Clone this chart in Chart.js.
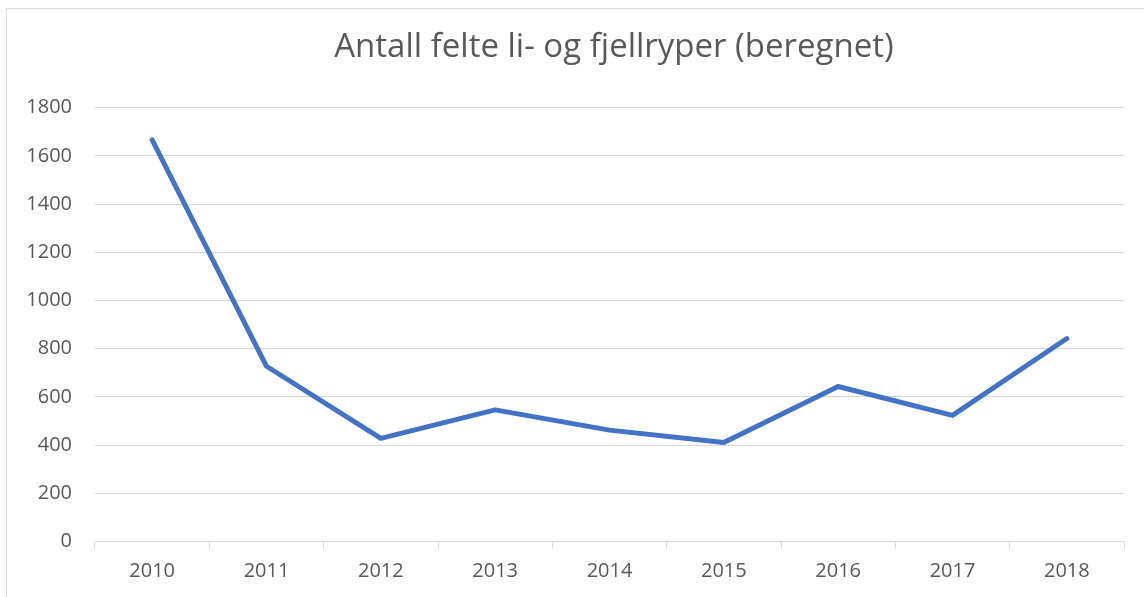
<!DOCTYPE html>
<html>
<head>
<meta charset="utf-8">
<script src="https://cdn.jsdelivr.net/npm/chart.js@4"></script>
<style>
  html, body { margin: 0; padding: 0; background: #fff; overflow: hidden; }
  #frame {
    position: absolute; left: 6px; top: 8px; width: 1300px; height: 700px;
    border: 1px solid #d9d9d9; box-sizing: border-box;
  }
  #wrap { position: absolute; left: 0; top: 0; width: 1228px; height: 597px; }
</style>
</head>
<body>
<div id="frame"></div>
<div id="wrap"><canvas id="turnoutChart"></canvas></div>
<script>
// data
const years = ["2010", "2011", "2012", "2013", "2014", "2015", "2016", "2017", "2018"];
const felte = [1666, 727, 428, 546, 462, 411, 643, 523, 842];
const yMax = 1800;
const yStep = 200;

const textGrey = "#595959";
const gridGrey = "#d9d9d9";
const font = "'Open Sans', 'Liberation Sans', sans-serif";

const ctx = document.getElementById("turnoutChart").getContext("2d");

new Chart(ctx, {
    type: "line",
    data: {
        labels: years,
        datasets: [{
            label: "Antall felte",
            data: felte,
            borderColor: "#4472C4",
            borderWidth: 5,
            borderCapStyle: "round",
            borderJoinStyle: "round",
            pointRadius: 0,
            tension: 0,
            fill: false,
        }],
    },
    options: {
        responsive: true,
        maintainAspectRatio: false,
        animation: false,
        layout: { padding: 0 },
        scales: {
            x: {
                offset: true,
                grid: {
                    offset: true,
                    drawOnChartArea: false,
                    drawTicks: true,
                    tickLength: 7,
                    color: gridGrey,
                },
                border: { display: true, color: gridGrey },
                ticks: { color: textGrey, font: { family: font, size: 20 }, padding: 11 },
                afterFit: (scale) => { scale.height = 55.5; },
            },
            y: {
                min: 0,
                max: yMax,
                ticks: {
                    stepSize: yStep,
                    color: textGrey,
                    font: { family: font, size: 20 },
                    padding: 23,
                    callback: (v) => String(v),
                },
                grid: { color: gridGrey, drawTicks: false },
                border: { display: false },
                afterFit: (scale) => { scale.width = 95; },
            },
            // empty right-hand axis, only reserves the space right of the plot
            spacer: {
                position: "right",
                min: 0,
                max: yMax,
                ticks: { display: false },
                grid: { display: false },
                border: { display: false },
                afterFit: (scale) => { scale.width = 104; },
            },
        },
        plugins: {
            legend: { display: false },
            tooltip: { enabled: false },
            title: {
                display: true,
                text: "Antall felte li- og fjellryper (beregnet)",
                color: textGrey,
                font: { family: font, size: 33, weight: "normal" },
                padding: { top: 28, bottom: 40 },
            },
        },
    },
});
</script>
</body>
</html>
